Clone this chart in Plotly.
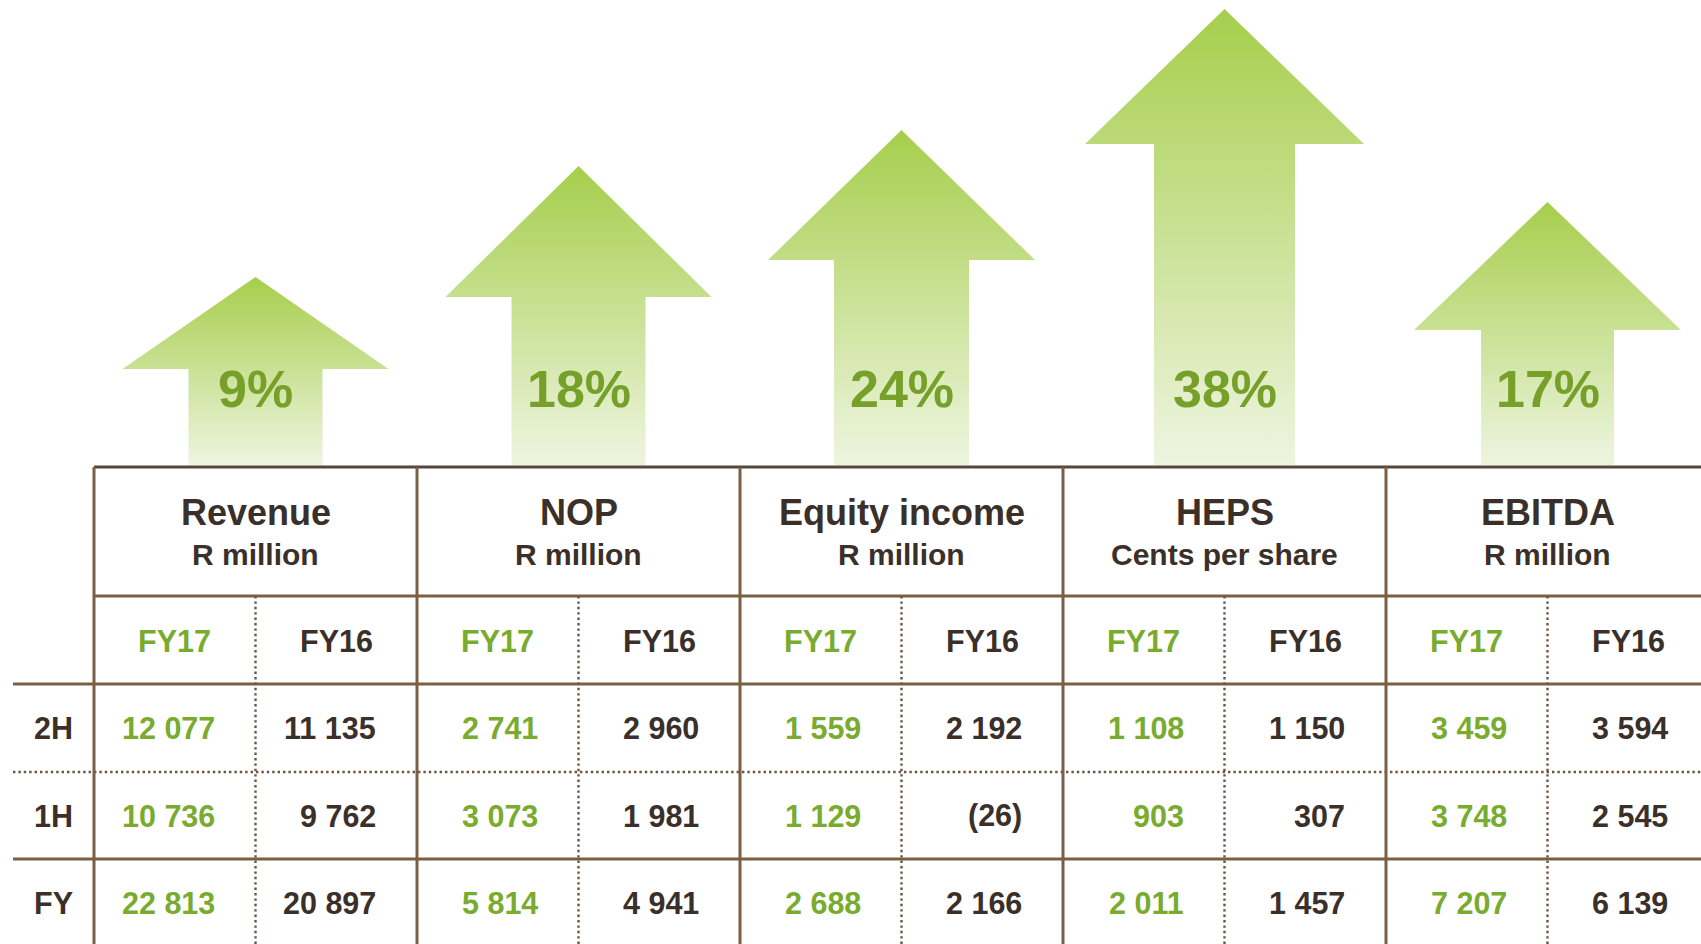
import plotly.graph_objects as go

# ---------------- data ----------------
metrics = ["Revenue", "NOP", "Equity income", "HEPS", "EBITDA"]
units = ["R million", "R million", "R million", "Cents per share", "R million"]
growth_pct = [9, 18, 24, 38, 17]
periods = ["2H", "1H", "FY"]
years = ["FY17", "FY16"]

fy17_2h = [12077, 2741, 1559, 1108, 3459]
fy16_2h = [11135, 2960, 2192, 1150, 3594]
fy17_1h = [10736, 3073, 1129, 903, 3748]
fy16_1h = [9762, 1981, -26, 307, 2545]
fy17_fy = [22813, 5814, 2688, 2011, 7207]
fy16_fy = [20897, 4941, 2166, 1457, 6139]

# ---------------- styling / layout (pixels) ----------------
W, H = 1701, 944
arrow_height = [188, 299, 335, 456, 263]      # decorative arrow heights above table
arrow_head = [92, 131, 130, 135, 128]          # arrow head heights
arrow_head_half = [133, 133, 133.5, 139.5, 133.5]
arrow_shaft_half = [67, 67, 67.5, 70.5, 66.5]

GREEN = "#79ab2f"
PCT_GREEN = "#76a02a"
DARK = "#3b2f2a"
LINE = "#7b5f45"
FONT = "Liberation Sans, Arial, sans-serif"

table_left = 94
col_w = 323
label_left = 13
y_top = 467
y_head = 596
y_sub = 684
row_bounds = [684, 772, 859, 946]
arrow_base = 465
pct_y = 389

def Y(py):
    return H - py

def fmt(v):
    s = f"{abs(v):,}".replace(",", " ")
    return f"({s})" if v < 0 else s

fig = go.Figure()

# arrows
for i, p in enumerate(growth_pct):
    cx = table_left + col_w * (i + 0.5)
    tip = arrow_base - arrow_height[i]
    hb = tip + arrow_head[i]
    hh, sh = arrow_head_half[i], arrow_shaft_half[i]
    xs = [cx - sh, cx - sh, cx - hh, cx, cx + hh, cx + sh, cx + sh, cx - sh]
    ys = [arrow_base, hb, hb, tip, hb, hb, arrow_base, arrow_base]
    fig.add_trace(go.Scatter(
        x=xs, y=[Y(v) for v in ys], mode="lines", fill="toself",
        line=dict(width=0, color="rgba(0,0,0,0)"),
        fillgradient=dict(type="vertical",
                          colorscale=[[0, "#eef5e0"], [1, "#a6ce4c"]]),
        hoverinfo="skip", showlegend=False))

def ann(x, y, text, size, color, xanchor="center"):
    return dict(x=x, y=Y(y), text=f"<b>{text}</b>", showarrow=False,
                font=dict(size=size, color=color, family=FONT),
                xanchor=xanchor, yanchor="middle")

annotations = []
for i, p in enumerate(growth_pct):
    cx = table_left + col_w * (i + 0.5)
    annotations.append(ann(cx, pct_y, f"{p}%", 52, PCT_GREEN))
    annotations.append(ann(cx, 512, metrics[i], 36, DARK))
    annotations.append(ann(cx, 554, units[i], 30, DARK))
    for j, yr in enumerate(years):
        sx = table_left + col_w * i + col_w / 2 * (j + 0.5)
        annotations.append(ann(sx, 641, yr, 30.5, GREEN if j == 0 else DARK))

rows = [(fy17_2h, fy16_2h), (fy17_1h, fy16_1h), (fy17_fy, fy16_fy)]
for r, (a17, a16) in enumerate(rows):
    cy = (row_bounds[r] + row_bounds[r + 1]) / 2
    annotations.append(ann((label_left + table_left) / 2, cy, periods[r], 30.5, DARK))
    for i in range(len(metrics)):
        for j, arr in enumerate((a17, a16)):
            rx = table_left + col_w * i + col_w / 2 * (j + 1) - 39
            annotations.append(ann(rx, cy, fmt(arr[i]), 30.5,
                                   GREEN if j == 0 else DARK, xanchor="right"))

shapes = []
def hline(x0, x1, y, color=LINE, width=3, dash="solid"):
    shapes.append(dict(type="line", xref="x", yref="y", x0=x0, x1=x1, y0=Y(y), y1=Y(y),
                       line=dict(color=color, width=width, dash=dash)))
def vline(x, y0, y1, color=LINE, width=3, dash="solid"):
    shapes.append(dict(type="line", xref="x", yref="y", x0=x, x1=x, y0=Y(y0), y1=Y(y1),
                       line=dict(color=color, width=width, dash=dash)))

hline(table_left, W, y_top, color="#55463b", width=3)
hline(table_left, W, y_head)
hline(label_left, W, y_sub)
hline(label_left, W, row_bounds[1], color="#6e5440", width=2.4, dash="2.4px,3px")
hline(label_left, W, row_bounds[2])
for i in range(len(metrics) + 1):
    vline(table_left + col_w * i, y_top, H)
for i in range(len(metrics)):
    vline(table_left + col_w * i + col_w / 2, y_head, H, color="#6e5440", width=2.4, dash="2.4px,3px")

fig.update_layout(
    width=W, height=H, margin=dict(l=0, r=0, t=0, b=0),
    paper_bgcolor="white", plot_bgcolor="white",
    xaxis=dict(range=[0, W], visible=False, fixedrange=True),
    yaxis=dict(range=[0, H], visible=False, fixedrange=True),
    annotations=annotations, shapes=shapes, showlegend=False,
)

fig.write_html("out.html", config={"displayModeBar": False},
               post_script="document.body.style.margin='0';document.body.style.overflow='hidden';")
